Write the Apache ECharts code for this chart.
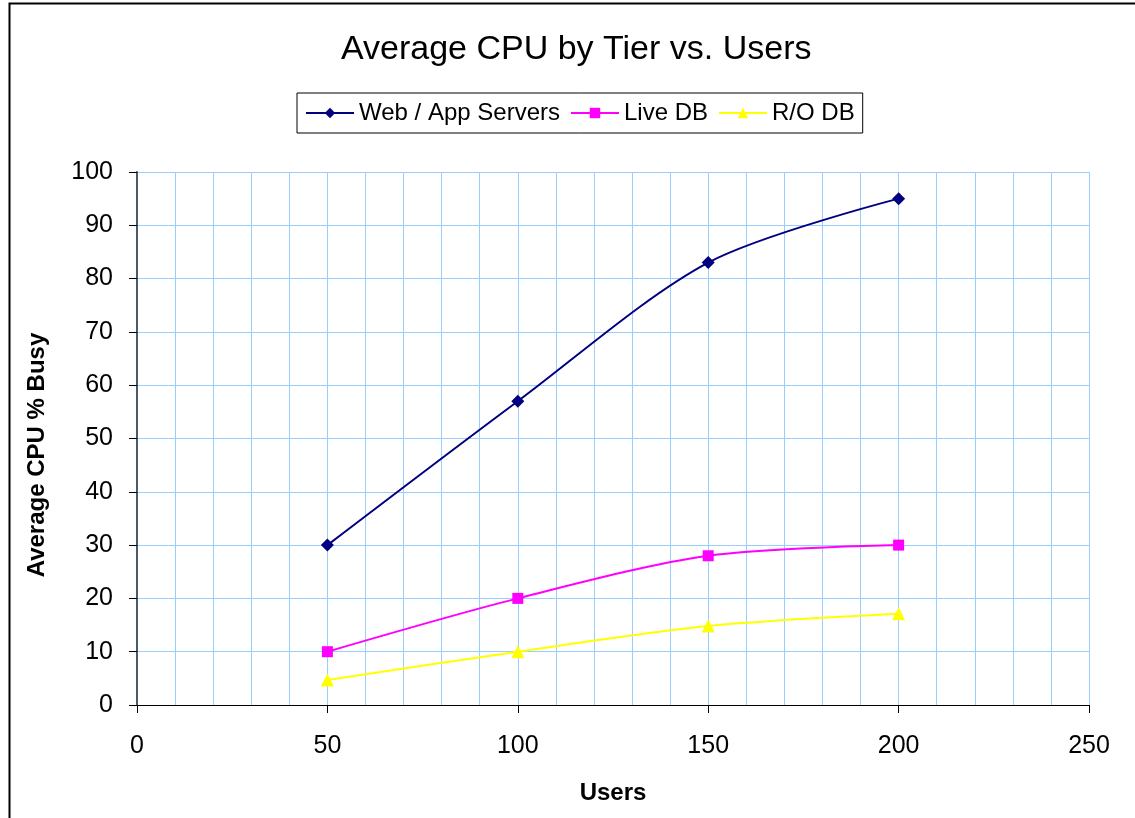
<!DOCTYPE html>
<html><head><meta charset="utf-8">
<script src="https://cdn.jsdelivr.net/npm/echarts@6/dist/echarts.min.js"></script>
<style>html,body{margin:0;padding:0;background:#fff}#c{width:1135px;height:818px}</style>
</head><body><div id="c"></div>
<script>
const users = [50, 100, 150, 200];
const webApp = [30, 57, 83, 95];
const liveDB = [10, 20, 28, 30];
const roDB = [4.7, 10, 14.8, 17.1];
const seriesNames = ['Web / App Servers', 'Live DB', 'R/O DB'];

const chart = echarts.init(document.getElementById('c'));
const font = 'Liberation Sans, Arial, sans-serif';
function pts(ys){ return users.map((u,i)=>[u, ys[i]]); }
chart.setOption({
  backgroundColor: '#fff',
  animation: false,
  graphic: [
    {type:'rect', shape:{x:9.5,y:3.5,width:1140,height:830}, style:{fill:'none', stroke:'#000', lineWidth:2}, silent:true},
    {type:'text', x:37, y:455, rotation:Math.PI/2, style:{text:'Average CPU % Busy', font:'bold 24px ' + font, fill:'#000', align:'center', verticalAlign:'middle'}, silent:true}
  ],
  title: {text:'Average CPU by Tier vs. Users', left:341, top:33, padding:0, textStyle:{fontFamily:font, fontSize:34, fontWeight:'normal', color:'#000'}},
  legend: {top:93, left:297, padding:[8,8,8,8], borderColor:'#000', borderWidth:1, itemWidth:48, itemHeight:13, itemGap:10,
    textStyle:{fontFamily:font, fontSize:24, color:'#000'}, data: seriesNames},
  grid: {left:137, right:46, top:172, bottom:113},
  xAxis: {type:'value', min:0, max:250, interval:50, name:'Users', nameLocation:'middle', nameGap:76,
    nameTextStyle:{fontFamily:font, fontSize:24, fontWeight:'bold', color:'#000'},
    axisLine:{show:true, onZero:false, lineStyle:{color:'#000', width:1}},
    axisTick:{show:true, length:8, lineStyle:{color:'#000'}},
    axisLabel:{fontFamily:font, fontSize:25, color:'#000', margin:29},
    splitLine:{show:true, lineStyle:{color:'#99ccff', width:1}},
    minorTick:{show:false, splitNumber:5},
    minorSplitLine:{show:true, lineStyle:{color:'#99ccff', width:1}}},
  yAxis: {type:'value', min:0, max:100, interval:10,
    axisLine:{show:true, lineStyle:{color:'#4a5a6a', width:2}},
    axisTick:{show:true, length:8, lineStyle:{color:'#000'}},
    axisLabel:{fontFamily:font, fontSize:25, color:'#000', margin:24},
    splitLine:{show:true, lineStyle:{color:'#99ccff', width:1}}},
  series: [
    {name:seriesNames[0], type:'line', data:pts(webApp), smooth:0.3, symbol:'diamond', symbolSize:13,
      lineStyle:{color:'#000080', width:2}, itemStyle:{color:'#000080'}},
    {name:seriesNames[1], type:'line', data:pts(liveDB), smooth:0.3, symbol:'rect', symbolSize:11,
      lineStyle:{color:'#ff00ff', width:2}, itemStyle:{color:'#ff00ff'}},
    {name:seriesNames[2], type:'line', data:pts(roDB), smooth:0.3, symbol:'triangle', symbolSize:13,
      lineStyle:{color:'#ffff00', width:2}, itemStyle:{color:'#ffff00'}}
  ]
});
</script></body></html>
